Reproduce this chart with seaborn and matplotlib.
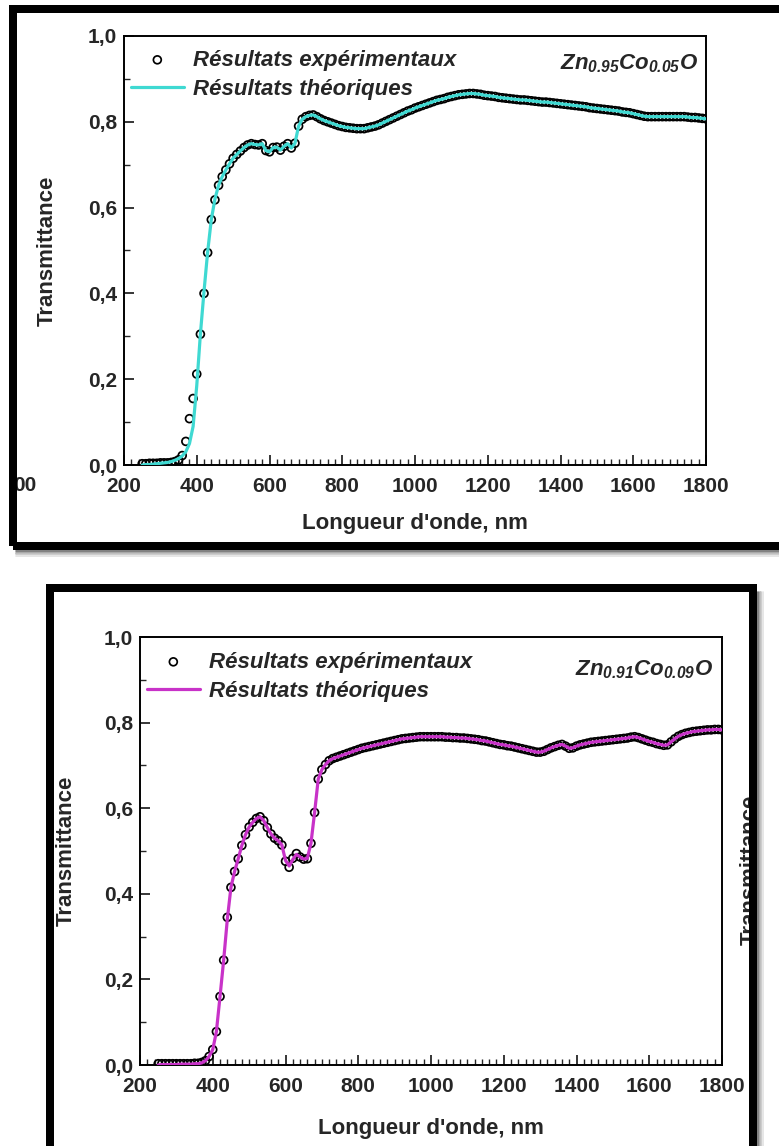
import matplotlib
matplotlib.use("Agg")
import matplotlib.pyplot as plt
import seaborn as sns
import numpy as np
from matplotlib.ticker import MultipleLocator, FuncFormatter
from matplotlib.patches import Rectangle
from matplotlib.lines import Line2D
from matplotlib.font_manager import FontProperties

# ---------------- data ----------------
wavelength = list(range(250, 1801, 10))

exp_05 = [
    0.003, 0.003, 0.004, 0.004, 0.004, 0.005, 0.005, 0.005, 0.006, 0.008,
    0.012, 0.022, 0.055, 0.108, 0.155, 0.212, 0.305, 0.400, 0.495, 0.572,
    0.618, 0.652, 0.672, 0.688, 0.702, 0.715, 0.724, 0.732, 0.740, 0.746,
    0.749, 0.747, 0.746, 0.749, 0.733, 0.730, 0.740, 0.741, 0.734, 0.743,
    0.749, 0.739, 0.750, 0.790, 0.806, 0.812, 0.815, 0.816, 0.812, 0.807,
    0.803, 0.800, 0.797, 0.794, 0.791, 0.789, 0.787, 0.786, 0.785, 0.784,
    0.784, 0.784, 0.786, 0.788, 0.790, 0.793, 0.797, 0.801, 0.805, 0.809,
    0.813, 0.817, 0.821, 0.825, 0.828, 0.832, 0.835, 0.838, 0.841, 0.844,
    0.847, 0.850, 0.852, 0.854, 0.857, 0.859, 0.861, 0.863, 0.864, 0.865,
    0.866, 0.866, 0.865, 0.864, 0.862, 0.861, 0.860, 0.859, 0.857, 0.856,
    0.855, 0.854, 0.853, 0.852, 0.851, 0.851, 0.850, 0.849, 0.848, 0.847,
    0.846, 0.846, 0.845, 0.844, 0.843, 0.842, 0.841, 0.840, 0.839, 0.838,
    0.837, 0.836, 0.835, 0.833, 0.832, 0.831, 0.830, 0.829, 0.828, 0.827,
    0.826, 0.825, 0.823, 0.822, 0.821, 0.819, 0.817, 0.815, 0.813, 0.812,
    0.812, 0.812, 0.812, 0.812, 0.812, 0.812, 0.812, 0.812, 0.812, 0.812,
    0.811, 0.810, 0.810, 0.809, 0.808, 0.807,
]
theo_05 = [
    0.000, 0.001, 0.001, 0.002, 0.003, 0.004, 0.005, 0.006, 0.008, 0.011,
    0.015, 0.021, 0.031, 0.050, 0.090, 0.185, 0.305, 0.405, 0.497, 0.572,
    0.620, 0.652, 0.672, 0.688, 0.702, 0.715, 0.724, 0.732, 0.740, 0.746,
    0.749, 0.747, 0.746, 0.749, 0.733, 0.730, 0.740, 0.741, 0.734, 0.743,
    0.749, 0.739, 0.750, 0.790, 0.806, 0.812, 0.815, 0.816, 0.812, 0.807,
    0.803, 0.800, 0.797, 0.794, 0.791, 0.789, 0.787, 0.786, 0.785, 0.784,
    0.784, 0.784, 0.786, 0.788, 0.790, 0.793, 0.797, 0.801, 0.805, 0.809,
    0.813, 0.817, 0.821, 0.825, 0.828, 0.832, 0.835, 0.838, 0.841, 0.844,
    0.847, 0.850, 0.852, 0.854, 0.857, 0.859, 0.861, 0.863, 0.864, 0.865,
    0.866, 0.866, 0.865, 0.864, 0.862, 0.861, 0.860, 0.859, 0.857, 0.856,
    0.855, 0.854, 0.853, 0.852, 0.851, 0.851, 0.850, 0.849, 0.848, 0.847,
    0.846, 0.846, 0.845, 0.844, 0.843, 0.842, 0.841, 0.840, 0.839, 0.838,
    0.837, 0.836, 0.835, 0.833, 0.832, 0.831, 0.830, 0.829, 0.828, 0.827,
    0.826, 0.825, 0.823, 0.822, 0.821, 0.819, 0.817, 0.815, 0.813, 0.812,
    0.812, 0.812, 0.812, 0.812, 0.812, 0.812, 0.812, 0.812, 0.812, 0.812,
    0.811, 0.810, 0.810, 0.809, 0.808, 0.807,
]

exp_09 = [
    0.003, 0.003, 0.003, 0.003, 0.003, 0.003, 0.003, 0.003, 0.003, 0.003,
    0.004, 0.004, 0.006, 0.010, 0.020, 0.036, 0.078, 0.160, 0.245, 0.345,
    0.415, 0.452, 0.482, 0.513, 0.538, 0.556, 0.567, 0.576, 0.580, 0.571,
    0.555, 0.540, 0.530, 0.524, 0.514, 0.476, 0.462, 0.483, 0.494, 0.486,
    0.481, 0.482, 0.518, 0.590, 0.668, 0.690, 0.702, 0.711, 0.716, 0.719,
    0.722, 0.725, 0.728, 0.731, 0.734, 0.737, 0.740, 0.742, 0.744, 0.746,
    0.748, 0.750, 0.752, 0.754, 0.756, 0.758, 0.760, 0.762, 0.763, 0.764,
    0.765, 0.766, 0.767, 0.767, 0.767, 0.767, 0.767, 0.767, 0.767, 0.766,
    0.766, 0.765, 0.765, 0.764, 0.764, 0.763, 0.762, 0.761, 0.760, 0.758,
    0.757, 0.755, 0.753, 0.751, 0.749, 0.748, 0.746, 0.745, 0.743, 0.741,
    0.739, 0.737, 0.735, 0.733, 0.731, 0.731, 0.733, 0.737, 0.741, 0.744,
    0.747, 0.749, 0.745, 0.740, 0.741, 0.745, 0.748, 0.750, 0.752, 0.754,
    0.755, 0.756, 0.757, 0.758, 0.759, 0.760, 0.761, 0.762, 0.763, 0.764,
    0.766, 0.767, 0.765, 0.762, 0.759, 0.756, 0.754, 0.751, 0.749, 0.747,
    0.748, 0.755, 0.762, 0.768, 0.772, 0.775, 0.777, 0.779, 0.780, 0.781,
    0.782, 0.783, 0.783, 0.784, 0.784, 0.783,
]
theo_09 = [
    0.000, 0.001, 0.001, 0.001, 0.001, 0.001, 0.002, 0.002, 0.002, 0.002,
    0.003, 0.003, 0.005, 0.010, 0.020, 0.036, 0.078, 0.160, 0.245, 0.340,
    0.415, 0.452, 0.482, 0.513, 0.538, 0.556, 0.567, 0.576, 0.580, 0.571,
    0.555, 0.540, 0.530, 0.524, 0.514, 0.478, 0.465, 0.480, 0.492, 0.486,
    0.481, 0.483, 0.518, 0.590, 0.668, 0.690, 0.702, 0.711, 0.716, 0.719,
    0.722, 0.725, 0.728, 0.731, 0.734, 0.737, 0.740, 0.742, 0.744, 0.746,
    0.748, 0.750, 0.752, 0.754, 0.756, 0.758, 0.760, 0.762, 0.763, 0.764,
    0.765, 0.766, 0.767, 0.767, 0.767, 0.767, 0.767, 0.767, 0.767, 0.766,
    0.766, 0.765, 0.765, 0.764, 0.764, 0.763, 0.762, 0.761, 0.760, 0.758,
    0.757, 0.755, 0.753, 0.751, 0.749, 0.748, 0.746, 0.745, 0.743, 0.741,
    0.739, 0.737, 0.735, 0.733, 0.731, 0.731, 0.733, 0.737, 0.741, 0.744,
    0.747, 0.749, 0.745, 0.740, 0.741, 0.745, 0.748, 0.750, 0.752, 0.754,
    0.755, 0.756, 0.757, 0.758, 0.759, 0.760, 0.761, 0.762, 0.763, 0.764,
    0.766, 0.767, 0.765, 0.762, 0.759, 0.756, 0.754, 0.751, 0.749, 0.747,
    0.748, 0.755, 0.762, 0.768, 0.772, 0.775, 0.777, 0.779, 0.780, 0.781,
    0.782, 0.783, 0.783, 0.784, 0.784, 0.783,
]

for arr in (exp_05, theo_05, exp_09, theo_09):
    assert len(arr) == len(wavelength)

x_ticks = [200, 400, 600, 800, 1000, 1200, 1400, 1600, 1800]
y_ticks = [0.0, 0.2, 0.4, 0.6, 0.8, 1.0]
legend_labels = ["Résultats expérimentaux", "Résultats théoriques"]
sample_labels = [r"$Zn_{0.95}Co_{0.05}O$", r"$Zn_{0.91}Co_{0.09}O$"]
line_colors = ["#3fd9d2", "#c832c8"]
xlabel = "Longueur d'onde, nm"
ylabel = "Transmittance"

# ---------------- style ----------------
sns.set_style("ticks")
plt.rcParams["font.family"] = ["Liberation Sans", "DejaVu Sans"]
plt.rcParams["font.weight"] = "bold"
plt.rcParams["mathtext.fontset"] = "custom"
plt.rcParams["mathtext.it"] = "Liberation Sans:italic:bold"
plt.rcParams["mathtext.rm"] = "Liberation Sans:italic:bold"
plt.rcParams["mathtext.bf"] = "Liberation Sans:italic:bold"

W, H = 779, 1146
fig = plt.figure(figsize=(W / 100, H / 100), dpi=100)
fig.patch.set_facecolor("white")


def fx(px):
    return px / W


def fy(py):
    return 1 - py / H


# axes rectangles in pixel coords (left, top, right, bottom)
ax_px = [(124, 36, 706, 465), (140, 637, 722, 1065)]
axes = []
for (l, t, r, b) in ax_px:
    axes.append(fig.add_axes([fx(l), fy(b), (r - l) / W, (b - t) / H]))

datasets = [(exp_05, theo_05), (exp_09, theo_09)]
sample_pos = [(1 - 8 / 582, 1 - 16 / 429), (1 - 9 / 582, 1 - 21 / 428)]
ylabel_x = [-0.113, -0.109]
xlabel_y = [-0.112, -0.124]
legend_y = [1 - 7 / 429, 1 - 8 / 428]

leg_font = FontProperties(family="Liberation Sans", weight="bold", style="italic", size=16)

for i, ax in enumerate(axes):
    exp_vals, theo_vals = datasets[i]
    sns.scatterplot(x=wavelength, y=exp_vals, ax=ax, marker="o", s=32,
                    facecolors="none", edgecolors="black", linewidths=1.25,
                    label=legend_labels[0], zorder=2, clip_on=True)
    sns.lineplot(x=wavelength, y=theo_vals, ax=ax, color=line_colors[i],
                 lw=2.3, label=legend_labels[1], zorder=3)

    ax.set_xlim(200, 1800)
    ax.set_ylim(0, 1.0)
    ax.set_xticks(x_ticks)
    ax.set_yticks(y_ticks)
    ax.xaxis.set_minor_locator(MultipleLocator(20))
    ax.yaxis.set_minor_locator(MultipleLocator(0.1))
    ax.yaxis.set_major_formatter(FuncFormatter(lambda v, p: f"{v:.1f}".replace(".", ",")))
    ax.tick_params(axis="both", which="major", direction="in", length=7, width=1.3,
                   labelsize=15, top=False, right=False)
    ax.tick_params(axis="both", which="minor", direction="in", length=4, width=1.0,
                   top=False, right=False)
    ax.tick_params(axis="x", which="major", pad=9)
    ax.tick_params(axis="y", which="major", pad=5)
    for lab in ax.get_xticklabels() + ax.get_yticklabels():
        lab.set_fontweight("bold")
    for sp in ax.spines.values():
        sp.set_visible(True)
        sp.set_linewidth(1.4)
        sp.set_color("black")

    ax.set_xlabel(xlabel, fontsize=16, fontweight="bold")
    ax.set_ylabel(ylabel, fontsize=16, fontweight="bold")
    ax.yaxis.set_label_coords(ylabel_x[i], 0.5)
    ax.xaxis.set_label_coords(0.5, xlabel_y[i])

    ax.legend(loc="upper left", bbox_to_anchor=(0, legend_y[i]), frameon=False, prop=leg_font,
              handlelength=2.4, handletextpad=0.4, labelspacing=0.38, borderpad=0.3,
              borderaxespad=0, scatterpoints=1)

    ax.text(sample_pos[i][0], sample_pos[i][1], sample_labels[i], transform=ax.transAxes,
            ha="right", va="top", fontsize=16)

# ---------------- frames & decorations ----------------
lw_frame = 8 * 72 / 100
# top frame (right side beyond the image)
fig.add_artist(Rectangle((fx(13), fy(546)), fx(800) - fx(13), fy(9) - fy(546),
                         transform=fig.transFigure, fill=False, ec="black",
                         lw=lw_frame, zorder=10))
# bottom frame (bottom beyond the image)
fig.add_artist(Rectangle((fx(50), fy(1170)), fx(752.5) - fx(50), fy(587.5) - fy(1170),
                         transform=fig.transFigure, fill=False, ec="black",
                         lw=lw_frame, zorder=10))
# soft shadows
for k, c in enumerate(["#6a6a6a", "#9a9a9a", "#c4c4c4", "#e2e2e2"]):
    fig.add_artist(Line2D([fx(16), fx(779)], [fy(551 + 1.6 * k)] * 2, transform=fig.transFigure,
                          color=c, lw=1.2, zorder=9))
    fig.add_artist(Line2D([fx(758 + 1.6 * k)] * 2, [fy(592), fy(1146)], transform=fig.transFigure,
                          color=c, lw=1.2, zorder=9))

# fragments of neighbouring figures visible in the scan
fig.text(fx(36), fy(485), "00", ha="right", va="center", fontsize=15,
         fontweight="bold", zorder=5)
fig.text(fx(740), fy(870), ylabel, ha="left", va="center", rotation=90,
         fontsize=16, fontweight="bold", zorder=5)

fig.savefig("out.png", dpi=100, facecolor="white")
